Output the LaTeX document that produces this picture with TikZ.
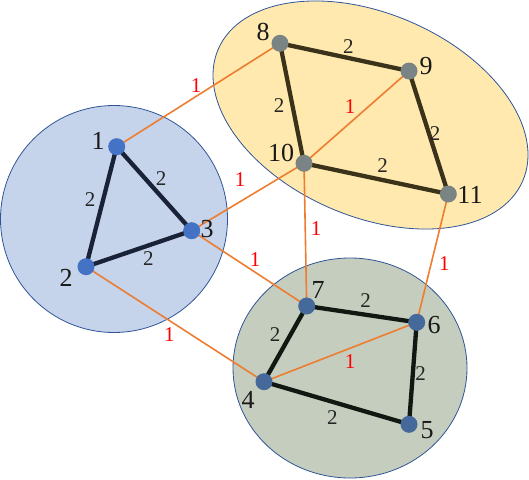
\documentclass[tikz,border=0pt]{standalone}
\usepackage{fontspec}
\setmainfont{Liberation Serif}
\newfontfamily\lblfont{Liberation Serif}
\definecolor{bfill}{HTML}{C5D3EB}
\definecolor{yfill}{HTML}{FFE9AF}
\definecolor{gfill}{HTML}{C5CDBE}
\definecolor{rim}{HTML}{2F5597}
\definecolor{bnode}{HTML}{4472C4}
\definecolor{ynode}{HTML}{7A8484}
\definecolor{gnode}{HTML}{44699A}
\definecolor{bedge}{HTML}{1A2238}
\definecolor{yedge}{HTML}{3B321A}
\definecolor{gedge}{HTML}{111711}
\definecolor{oedge}{HTML}{ED7D31}
\tikzset{
  vtx/.style={circle,inner sep=0pt,minimum size=17pt},
  heavy/.style={line width=4.3pt},
  light/.style={oedge,line width=1.6pt},
  nlbl/.style={font=\lblfont\fontsize{26}{26}\selectfont,text=black!90,inner sep=0pt},
  wlbl/.style={font=\lblfont\fontsize{21}{21}\selectfont,text=black!85,inner sep=0pt},
  rlbl/.style={font=\lblfont\fontsize{21}{21}\selectfont,text=red,inner sep=0pt},
  group/.style={draw=rim,line width=0.8pt}
}
\begin{document}
\begin{tikzpicture}[x=1pt,y=-1pt]
\useasboundingbox (0,0) rectangle (529,479);
% groups
\draw[group,fill=bfill] (114,219) circle [radius=113.5pt];
\draw[group,fill=yfill,rotate around={-23.4:(370.5,115)}] (370.5,115) ellipse [x radius=165.9pt, y radius=101.4pt];
\draw[group,fill=gfill] (350,368) ellipse [x radius=117pt, y radius=110pt];
% vertices (positions)
\node[vtx] (n1) at (116.7,146.7) {};
\node[vtx] (n2) at (86,266.7) {};
\node[vtx] (n3) at (191.7,230.7) {};
\node[vtx] (n8) at (280,43.3) {};
\node[vtx] (n9) at (409,71) {};
\node[vtx] (n10) at (304,163.3) {};
\node[vtx] (n11) at (448.3,194) {};
\node[vtx] (n7) at (306.7,306) {};
\node[vtx] (n6) at (416.7,322.3) {};
\node[vtx] (n4) at (264,381.7) {};
\node[vtx] (n5) at (409,424.3) {};
% light edges
\draw[light] (n1.center) -- (n8.center);
\draw[light] (n3.center) -- (n10.center);
\draw[light] (n10.center) -- (n9.center);
\draw[light] (n10.center) -- (n7.center);
\draw[light] (n11.center) -- (n6.center);
\draw[light] (n3.center) -- (n7.center);
\draw[light] (n2.center) -- (n4.center);
\draw[light] (n4.center) -- (n6.center);
% heavy edges
\draw[heavy,bedge] (n1.center) -- (n2.center) -- (n3.center) -- cycle;
\draw[heavy,yedge] (n8.center) -- (n9.center) -- (n11.center) -- (n10.center) -- cycle;
\draw[heavy,gedge] (n7.center) -- (n6.center) -- (n5.center) -- (n4.center) -- cycle;
% vertex discs
\foreach \n in {n1,n2,n3} \fill[bnode] (\n) circle [radius=8.5pt];
\foreach \n in {n8,n9,n10,n11} \fill[ynode] (\n) circle [radius=8.5pt];
\foreach \n in {n4,n5,n6,n7} \fill[gnode] (\n) circle [radius=8.5pt];
% vertex labels
\node[nlbl] (l1) at (98,141) {1};
\node[nlbl] (l2) at (66,278) {2};
\node[nlbl] (l3) at (207,229) {3};
\node[nlbl] (l8) at (263,32) {8};
\node[nlbl] (l9) at (426,66) {9};
\node[nlbl] (l10) at (281,153) {10};
\node[nlbl] (l11) at (470,195) {11};
\node[nlbl] (l7) at (318,290) {7};
\node[nlbl] (l6) at (434,325) {6};
\node[nlbl] (l4) at (248,400) {4};
\node[nlbl] (l5) at (427,430) {5};
% weights
\node[wlbl] (w13) at (161,179) {2};
\node[wlbl] (w12) at (90,199.3) {2};
\node[wlbl] (w23) at (148.3,258.3) {2};
\node[wlbl] (w89) at (348.3,46.7) {2};
\node[wlbl] (w810) at (279,106) {2};
\node[wlbl] (w911) at (435,133.3) {2};
\node[wlbl] (w1011) at (382.7,165.7) {2};
\node[wlbl] (w76) at (365.7,300.7) {2};
\node[wlbl] (w74) at (275,334.3) {2};
\node[wlbl] (w65) at (420.7,374) {2};
\node[wlbl] (w45) at (332.3,417.7) {2};
\node[rlbl] (r18) at (196,86) {1};
\node[rlbl] (r310) at (240,180) {1};
\node[rlbl] (r109) at (350,106.7) {1};
\node[rlbl] (r107) at (316,229) {1};
\node[rlbl] (r116) at (444.3,263.3) {1};
\node[rlbl] (r37) at (255,260) {1};
\node[rlbl] (r24) at (169.3,335) {1};
\node[rlbl] (r46) at (350,361.7) {1};
\end{tikzpicture}
\end{document}
